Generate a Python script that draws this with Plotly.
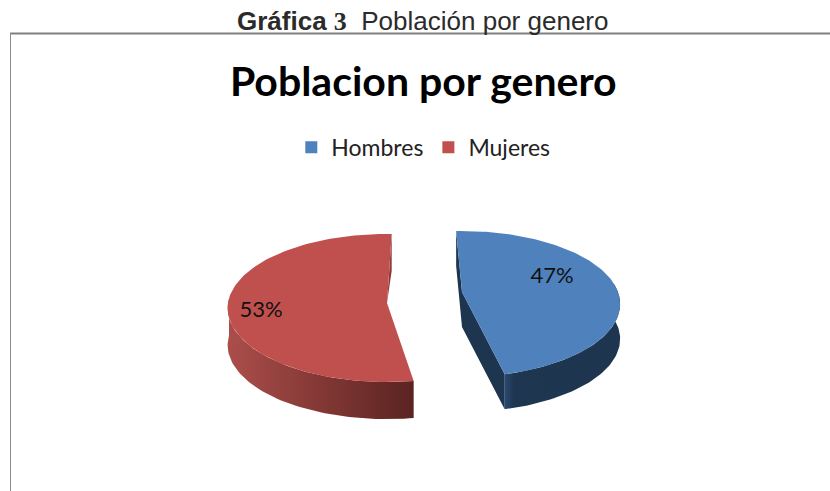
import numpy as np
import plotly.graph_objects as go

categories = ["Hombres", "Mujeres"]
values = [47, 53]
caption_bold = "Gráfica"
caption_number = "3"
caption_text = "Población por genero"
chart_title = "Poblacion por genero"

TOP = {"Hombres": "#4f81bd", "Mujeres": "#c0504d"}
CUT = {"Hombres": "#1e3550", "Mujeres": "#8f3b39"}
SIDE = {"Hombres": [[0, "#2a4a70"], [0.08, "#1f3651"], [1, "#1e3550"]],
        "Mujeres": [[0, "#ab4e4b"], [0.5, "#833835"], [1, "#5a2321"]]}
# apex x/y, radii, perspective, depth, start angle
VIEW = {"Hombres": dict(ax=462, ay=292, rx=156, ry=71, k=0.164, d=35, start=-2.5),
        "Mujeres": dict(ax=387, ay=303, rx=159, ry=73.7, k=0.068, d=37, start=171)}
LABEL_AT = {"Hombres": (552, 277), "Mujeres": (261, 311)}


def rim(v, a0, a1, n=120):
    t = np.radians(np.linspace(a0, a1, n))
    w = 1 + v["k"] * np.cos(t)
    return v["ax"] + v["rx"] * np.sin(t) / w, v["ay"] - v["ry"] * np.cos(t) / w


fig = go.Figure()
total = sum(values)
for name, val in zip(categories, values):
    v = VIEW[name]
    a0 = v["start"]
    a1 = a0 + 360 * val / total
    x, y = rim(v, a0, a1)
    d = v["d"]

    # outer wall: only the part of the rim facing the viewer
    ang = np.linspace(a0, a1, 120)
    mask = ang > 82 if name == "Hombres" else ang < 275
    sx, sy = x[mask], y[mask]
    fig.add_trace(go.Scatter(
        x=np.r_[sx, sx[::-1]], y=np.r_[sy, sy[::-1] + d],
        mode="lines", line=dict(width=0), fill="toself",
        fillgradient=dict(type="horizontal", colorscale=SIDE[name]),
        showlegend=False, hoverinfo="skip"))

    # cut face (radial walls)
    if name == "Hombres":
        cx = [x[0], v["ax"], x[-1], x[-1], v["ax"], x[0]]
        cy = [y[0], v["ay"], y[-1], y[-1] + d, v["ay"] + d, y[0] + d]
    else:
        cx = [x[-1], x[-1], v["ax"]]
        cy = [y[-1], y[-1] + d, v["ay"]]
    fig.add_trace(go.Scatter(x=cx, y=cy, mode="lines", line=dict(width=0),
                             fill="toself", fillcolor=CUT[name],
                             showlegend=False, hoverinfo="skip"))

    # top face
    fig.add_trace(go.Scatter(x=np.r_[v["ax"], x, v["ax"]], y=np.r_[v["ay"], y, v["ay"]],
                             mode="lines", line=dict(width=0), fill="toself",
                             fillcolor=TOP[name], showlegend=False, hoverinfo="skip"))

    # legend entry
    fig.add_trace(go.Scatter(x=[None], y=[None], mode="markers", name=name,
                             marker=dict(symbol="square", size=12, color=TOP[name])))

    # percent label
    lx, ly = LABEL_AT[name]
    fig.add_trace(go.Scatter(x=[lx], y=[ly], mode="text", text=[f"{val}%"],
                             textfont=dict(family="Lato", size=22, color="#111111"),
                             showlegend=False, hoverinfo="skip"))

fig.add_annotation(
    xref="x", yref="y", x=422, y=21, showarrow=False,
    text=(f"<b>{caption_bold} <span style=\"font-family:'Liberation Serif'\">{caption_number}</span></b>"
          f"\u00a0\u00a0{caption_text}"),
    font=dict(family="Liberation Sans", size=26, color="#2b2b2b"))

fig.update_layout(
    width=830, height=491, margin=dict(l=0, r=0, t=0, b=0),
    paper_bgcolor="white", plot_bgcolor="white",
    title=dict(text=f"<b>{chart_title}</b>", x=0.51, xanchor="center", y=0.833, yanchor="middle",
               font=dict(family="Lato", size=41, color="black")),
    xaxis=dict(range=[0, 830], visible=False),
    yaxis=dict(range=[491, 0], visible=False),
    legend=dict(orientation="h", x=0.51, xanchor="center", y=0.70, yanchor="middle",
                font=dict(family="Lato", size=23, color="#222222"),
                bgcolor="rgba(0,0,0,0)"),
    shapes=[
        dict(type="line", xref="x", yref="y", x0=10, x1=830, y0=33.5, y1=33.5,
             line=dict(color="#808080", width=2)),
        dict(type="line", xref="x", yref="y", x0=10.5, x1=10.5, y0=33, y1=491,
             line=dict(color="#8c8c8c", width=1)),
    ],
)

fig.write_html("out.html", config=dict(displayModeBar=False),
               post_script="document.body.style.margin='0';document.body.style.overflow='hidden';")
